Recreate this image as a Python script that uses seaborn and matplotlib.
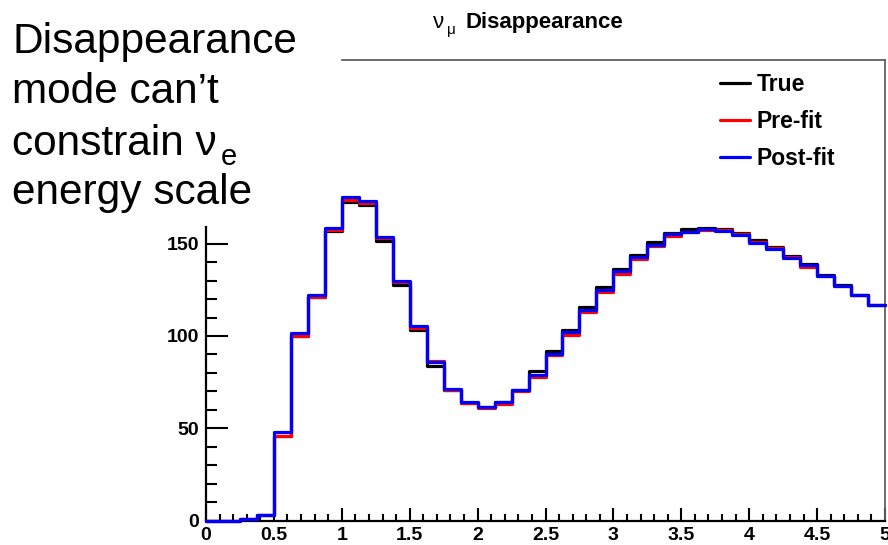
import numpy as np
import pandas as pd
import matplotlib
matplotlib.use("Agg")
import matplotlib.pyplot as plt
from matplotlib.ticker import FixedLocator
import seaborn as sns

# Reconstructed energy binning (GeV), 40 bins of 0.125
bin_edges = [i * 0.125 for i in range(41)]
bin_centers = [0.5 * (bin_edges[i] + bin_edges[i + 1]) for i in range(40)]

true_counts = [0, 0, 1, 3, 46, 100, 121, 157, 172.8, 171,
               151.3, 127.5, 103, 84, 71, 63.5, 61.5, 64, 71, 81,
               92, 103.3, 115.6, 126.3, 136.5, 144, 150.7, 155.9, 157.8, 158.7,
               157.8, 155.8, 151.9, 148.3, 143.6, 139.2, 133, 127.5, 122.3, 117]
prefit_counts = [0, 0, 1, 3, 46, 100, 121, 157.5, 173.7, 172,
                 153, 129, 104.5, 86.5, 71, 63.5, 61, 63, 70, 78,
                 89.6, 100.5, 113, 124, 133.8, 141.5, 149, 154, 156.5, 157.5,
                 157.5, 155.4, 151, 147.5, 142.7, 137.6, 132.4, 127, 122, 116.7]
postfit_counts = [0, 0, 1, 3, 48, 101.5, 122, 158.4, 175.5, 173.2,
                  153.7, 130, 105.3, 86, 71.2, 64, 61.5, 64, 70.5, 79,
                  90.5, 102.2, 114, 125.2, 135.3, 142.8, 149.5, 155.2, 156.4, 157.8,
                  156.9, 154.6, 150.6, 147.4, 142.5, 138.3, 132.4, 127.1, 122, 116.7]

series_names = ["True", "Pre-fit", "Post-fit"]
series_counts = [true_counts, prefit_counts, postfit_counts]
series_colors = ["#000000", "#ff0000", "#0000ff"]

x_major = [0, 0.5, 1, 1.5, 2, 2.5, 3, 3.5, 4, 4.5, 5]
x_labels = ["0", "0.5", "1", "1.5", "2", "2.5", "3", "3.5", "4", "4.5", "5"]
y_major = [0, 50, 100, 150]
y_labels = ["0", "50", "100", "150"]

sns.set_style("white")
plt.rcParams["font.family"] = ["Liberation Sans", "DejaVu Sans"]
plt.rcParams["text.color"] = "black"
plt.rcParams["xtick.color"] = "black"
plt.rcParams["ytick.color"] = "black"

W, H = 888, 545
fig = plt.figure(figsize=(W / 100, H / 100), dpi=100)
fig.patch.set_facecolor("white")


def fx(px):
    return px / W


def fy(py):
    return 1 - py / H


ax_left, ax_right, ax_bottom, ax_top = 206, 885, 520.5, 60
ax = fig.add_axes([fx(ax_left), fy(ax_bottom),
                   fx(ax_right - ax_left), (ax_bottom - ax_top) / H])

frame = pd.DataFrame({
    "energy": np.tile(np.asarray(bin_centers), len(series_names)),
    "count": np.concatenate([np.asarray(c, float) for c in series_counts]),
    "curve": np.repeat(series_names, len(bin_centers)),
})

for name, color in zip(series_names, series_colors):
    sub = frame[frame["curve"] == name].reset_index(drop=True)
    sns.histplot(data=sub, x="energy", weights="count", bins=bin_edges,
                 element="step", fill=False, color=color, linewidth=2.3,
                 label=name, ax=ax)

# Histogram outlines sit above the axis lines
for i, ln in enumerate(ax.lines):
    ln.set_zorder(3 + i)
    ln.set_clip_on(False)

ax.set_xlim(0, 5)
ax.set_ylim(0, (ax_bottom - ax_top) / 1.845)
ax.set_xlabel("")
ax.set_ylabel("")

# Axis styling: heavy black left/bottom axes, thin grey frame on top/right
for side in ["left", "bottom"]:
    ax.spines[side].set_color("black")
    ax.spines[side].set_linewidth(1.6)
for side in ["top", "right"]:
    ax.spines[side].set_color("#606060")
    ax.spines[side].set_linewidth(1.3)
ax.spines["left"].set_bounds(0, 159)
ax.spines["top"].set_bounds(1.0, 5)

ax.set_xticks(x_major)
ax.set_xticklabels(x_labels)
ax.xaxis.set_minor_locator(FixedLocator(
    [v / 10 for v in range(51) if v % 5 != 0]))
ax.set_yticks(y_major)
ax.set_yticklabels(y_labels)
ax.yaxis.set_minor_locator(FixedLocator(
    [v for v in range(10, 151, 10) if v % 50 != 0]))

ax.tick_params(axis="x", which="major", direction="in", length=9.4,
               width=1.5, pad=5, labelsize=14, top=False, bottom=True)
ax.tick_params(axis="x", which="minor", direction="in", length=4.7,
               width=1.5, top=False, bottom=True)
ax.tick_params(axis="y", which="major", direction="in", length=15.8,
               width=1.5, pad=5, labelsize=14, right=False, left=True)
ax.tick_params(axis="y", which="minor", direction="in", length=7.9,
               width=1.5, right=False, left=True)
for lab in ax.get_xticklabels() + ax.get_yticklabels():
    lab.set_fontweight("bold")

handles, labels = ax.get_legend_handles_labels()
leg = ax.legend(handles, labels, loc="upper left",
                bbox_to_anchor=(fx(720), fy(73)), bbox_transform=fig.transFigure,
                frameon=False, fontsize=16.5, handlelength=1.3,
                handletextpad=0.3, labelspacing=0.62, borderpad=0,
                borderaxespad=0)
for t in leg.get_texts():
    t.set_fontweight("bold")
for ln in leg.get_lines():
    ln.set_linewidth(2.3)

# Title: nu_mu Disappearance
fig.text(fx(433), fy(28), "ν", fontsize=16, va="baseline", ha="left")
fig.text(fx(447), fy(34), "μ", fontsize=11, va="baseline", ha="left")
fig.text(fx(465), fy(28), "Disappearance", fontsize=16, fontweight="bold",
         va="baseline", ha="left")

# Side note
note_lines = ["Disappearance", "mode can\u2019t", "constrain ν", "energy scale"]
note_baselines = [53, 103, 155, 204]
note_texts = []
for line, base in zip(note_lines, note_baselines):
    note_texts.append(fig.text(fx(12), fy(base), line, fontsize=30.5,
                               va="baseline", ha="left"))
ax.annotate("e", xy=(1, 0), xycoords=note_texts[2], xytext=(4, -1),
            textcoords="offset pixels", fontsize=21, va="baseline",
            ha="left", annotation_clip=False)

fig.savefig("out.png", dpi=100, facecolor="white")
